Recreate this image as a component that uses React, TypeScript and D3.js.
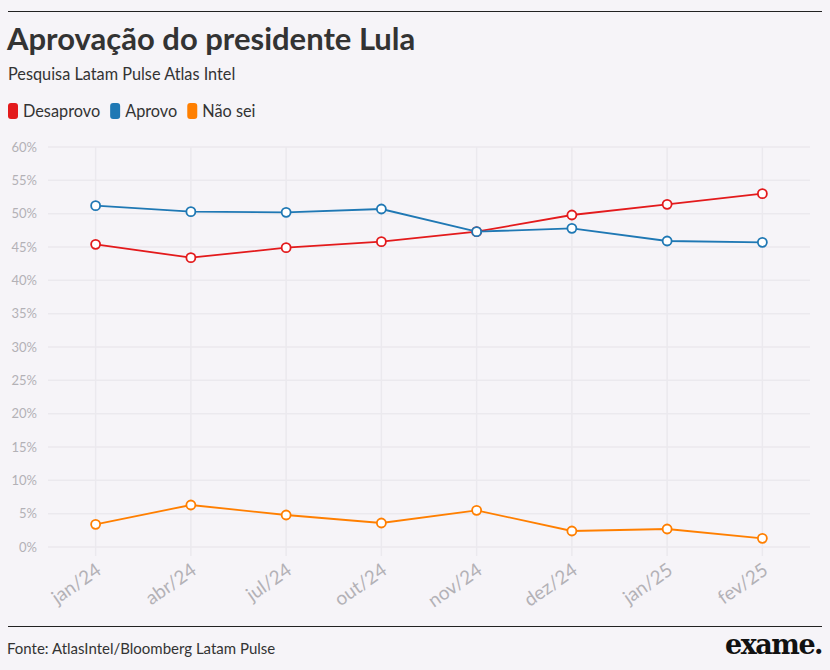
import { useEffect, useRef } from "react";
import * as d3 from "d3";

// ── Data ──────────────────────────────────────────────────────────────────────

const MONTHS = ["jan/24", "abr/24", "jul/24", "out/24", "nov/24", "dez/24", "jan/25", "fev/25"];
const DESAPROVO = [45.4, 43.4, 44.9, 45.8, 47.3, 49.8, 51.4, 53.0];
const APROVO    = [51.2, 50.3, 50.2, 50.7, 47.3, 47.8, 45.9, 45.7];
const NAO_SEI   = [3.4, 6.3, 4.8, 3.6, 5.5, 2.4, 2.7, 1.3];
const Y_TICKS   = [0, 5, 10, 15, 20, 25, 30, 35, 40, 45, 50, 55, 60];

const SERIES = [
  { name: "Desaprovo", color: "#e31a1c", values: DESAPROVO },
  { name: "Aprovo",    color: "#1f78b4", values: APROVO },
  { name: "Não sei",   color: "#ff7f00", values: NAO_SEI },
];

// ── Tokens ────────────────────────────────────────────────────────────────────

const BG    = "#f6f4f8";
const GRID  = "#ebe9ee";
const FG    = "#333333";
const MUTED = "#b3b1b6";
const SANS  = "'Source Sans Pro', Lato, 'Open Sans', sans-serif";

export default function App() {
  const svgRef = useRef<SVGSVGElement>(null);

  useEffect(() => {
    if (!svgRef.current) return;
    const W = 830, H = 670;
    const m = { top: 147, right: 20, bottom: 123, left: 48 };

    const svg = d3.select(svgRef.current);
    svg.selectAll("*").remove();
    svg.attr("viewBox", `0 0 ${W} ${H}`);

    svg.append("rect").attr("width", W).attr("height", H).attr("fill", BG);

    // Header
    svg.append("line")
      .attr("x1", 8).attr("x2", 822).attr("y1", 11.5).attr("y2", 11.5)
      .attr("stroke", "#222").attr("stroke-width", 1);

    svg.append("text")
      .attr("x", 7).attr("y", 50)
      .attr("fill", FG).attr("font-family", SANS)
      .attr("font-size", "31px").attr("font-weight", 700)
      .text("Aprovação do presidente Lula");

    svg.append("text")
      .attr("x", 8).attr("y", 80)
      .attr("fill", FG).attr("font-family", SANS)
      .attr("font-size", "16.3px")
      .text("Pesquisa Latam Pulse Atlas Intel");

    // Legend
    let lx = 8;
    SERIES.forEach(s => {
      svg.append("rect")
        .attr("x", lx).attr("y", 103).attr("width", 10).attr("height", 16)
        .attr("rx", 3).attr("fill", s.color);
      const t = svg.append("text")
        .attr("x", lx + 15).attr("y", 117)
        .attr("fill", FG).attr("font-family", SANS)
        .attr("font-size", "16.3px")
        .text(s.name);
      const len = (t.node() as SVGTextElement).getComputedTextLength();
      lx += 15 + len + 10;
    });

    // Scales
    const x = d3.scalePoint<string>()
      .domain(MONTHS)
      .range([m.left, W - m.right])
      .padding(0.5);

    const y = d3.scaleLinear()
      .domain([0, 60])
      .range([H - m.bottom, m.top]);

    const g = svg.append("g");

    // Grid
    g.selectAll(".hgrid")
      .data(Y_TICKS)
      .join("line")
      .attr("class", "hgrid")
      .attr("x1", m.left).attr("x2", W - m.right)
      .attr("y1", d => y(d)).attr("y2", d => y(d))
      .attr("stroke", GRID).attr("stroke-width", 1.5);

    g.selectAll(".vgrid")
      .data(MONTHS)
      .join("line")
      .attr("class", "vgrid")
      .attr("x1", d => x(d)!).attr("x2", d => x(d)!)
      .attr("y1", m.top).attr("y2", H - m.bottom + 9)
      .attr("stroke", GRID).attr("stroke-width", 1.5);

    // Y labels
    g.selectAll(".ylbl")
      .data(Y_TICKS)
      .join("text")
      .attr("class", "ylbl")
      .attr("x", 37).attr("y", d => y(d))
      .attr("dy", "0.35em")
      .attr("text-anchor", "end")
      .attr("fill", MUTED).attr("font-family", SANS)
      .attr("font-size", "13px")
      .text(d => `${d}%`);

    // X labels
    g.selectAll(".xlbl")
      .data(MONTHS)
      .join("text")
      .attr("class", "xlbl")
      .attr("transform", d => `translate(${x(d)! + 7},${H - m.bottom + 26}) rotate(-35)`)
      .attr("text-anchor", "end")
      .attr("fill", MUTED).attr("font-family", SANS)
      .attr("font-size", "19px")
      .text(d => d);

    // Lines + points
    const line = d3.line<number>()
      .x((_, i) => x(MONTHS[i])!)
      .y(d => y(d));

    SERIES.forEach(s => {
      g.append("path")
        .datum(s.values)
        .attr("d", line)
        .attr("fill", "none")
        .attr("stroke", s.color)
        .attr("stroke-width", 1.8);

      g.selectAll(null)
        .data(s.values)
        .join("circle")
        .attr("cx", (_, i) => x(MONTHS[i])!)
        .attr("cy", d => y(d))
        .attr("r", 4.5)
        .attr("fill", "#fff")
        .attr("stroke", s.color)
        .attr("stroke-width", 1.8);
    });

    // Footer
    svg.append("line")
      .attr("x1", 8).attr("x2", 822).attr("y1", 626.5).attr("y2", 626.5)
      .attr("stroke", "#222").attr("stroke-width", 1);

    svg.append("text")
      .attr("x", 7).attr("y", 654)
      .attr("fill", FG).attr("font-family", SANS)
      .attr("font-size", "15px")
      .text("Fonte: AtlasIntel/Bloomberg Latam Pulse");

    svg.append("text")
      .attr("x", 822).attr("y", 654)
      .attr("text-anchor", "end")
      .attr("fill", "#111").attr("font-family", "'DejaVu Serif', 'Liberation Serif', serif")
      .attr("font-size", "27px").attr("font-weight", 700)
      .attr("letter-spacing", "-1.5px")
      .text("exame.");
  }, []);

  return (
    <>
      <style>{`body{margin:0;background:${BG};}`}</style>
      <svg ref={svgRef} width={830} height={670} style={{ display: "block" }} />
    </>
  );
}
